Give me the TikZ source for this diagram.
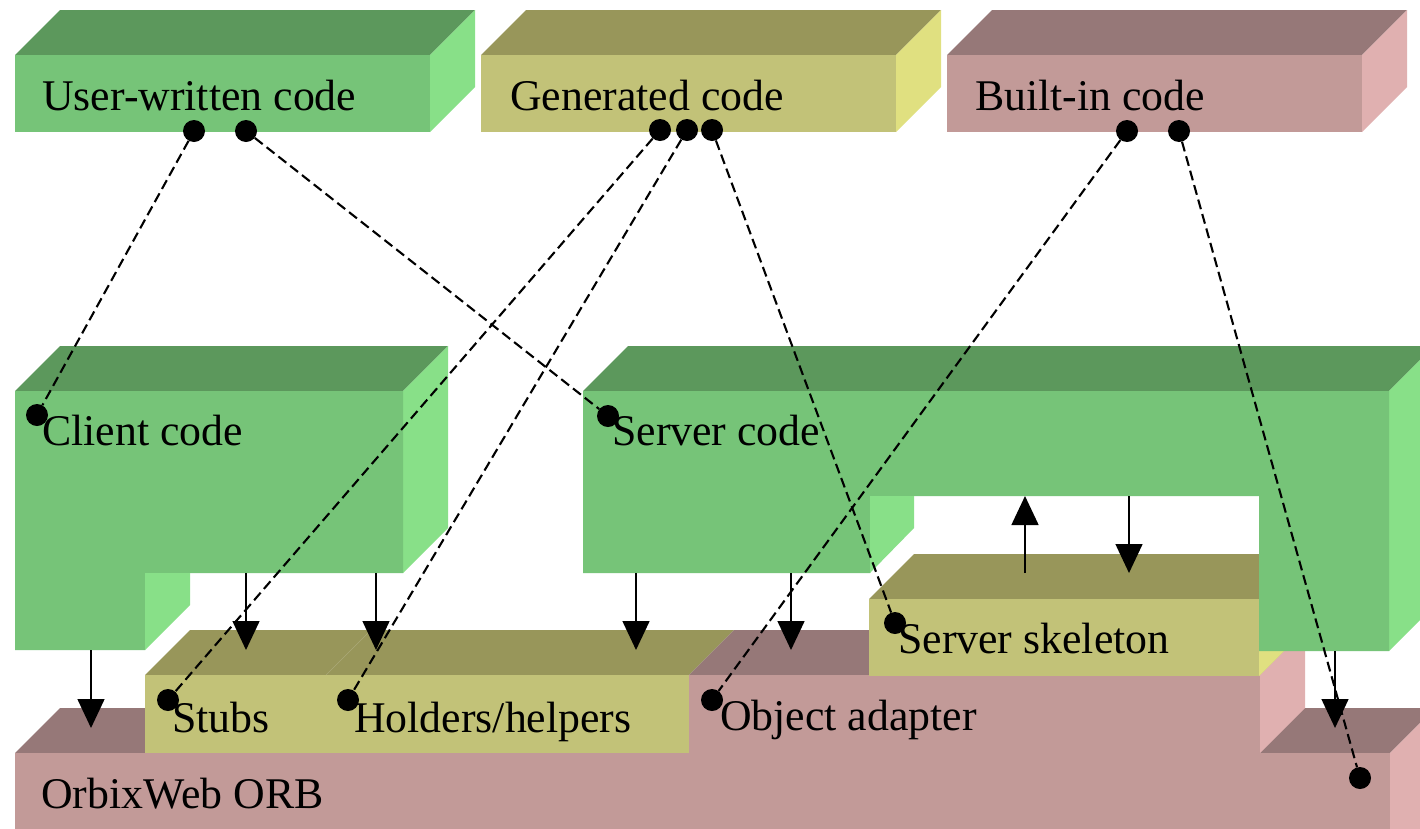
\documentclass[tikz,border=0pt]{standalone}
\usepackage{fontspec}
\setmainfont{Liberation Serif}
\usetikzlibrary{arrows.meta}
\definecolor{gtop}{RGB}{92,152,92}
\definecolor{gfront}{RGB}{118,196,120}
\definecolor{gside}{RGB}{136,224,136}
\definecolor{ytop}{RGB}{152,150,90}
\definecolor{yfront}{RGB}{194,194,120}
\definecolor{yside}{RGB}{224,224,128}
\definecolor{ptop}{RGB}{150,120,120}
\definecolor{pfront}{RGB}{194,154,152}
\definecolor{pside}{RGB}{224,176,176}
\begin{document}
\begin{tikzpicture}[x=1pt,y=-1pt,
  lbl/.style={anchor=base west, font=\fontsize{43.8}{50}\selectfont, inner sep=0pt},
  dot/.style={circle, fill=black, inner sep=0pt, minimum size=22pt},
  linkline/.style={draw, line width=2.1pt, dash pattern=on 10pt off 5pt},
  flow/.style={draw, line width=1.5pt, -{Triangle[width=27pt,length=29pt]}}]
\useasboundingbox (0,0) rectangle (1420,828);
\clip (0,0) rectangle (1420,828);
\fill[white] (0,0) rectangle (1420,828);

% ---- OrbixWeb ORB
\fill[ptop] (15,753) -- (60,708) -- (1435,708) -- (1390,753) -- cycle;
\fill[pside] (1390,753) -- (1435,708) -- (1435,900) -- (1390,900) -- cycle;
\fill[pfront] (15,753) rectangle (1390,900);

% ---- Stubs and Holders/helpers
\fill[ytop] (145,675) -- (190,630) -- (371,630) -- (326,675) -- cycle;
\fill[ytop] (326,675) -- (371,630) -- (734,630) -- (689,675) -- cycle;
\draw[ytop!85!white, line width=0.5pt] (326,675) -- (371,630);
\fill[yfront] (145,675) rectangle (689,753);

% ---- Object adapter
\fill[ptop] (689,675) -- (734,630) -- (1305,630) -- (1260,675) -- cycle;
\fill[pside] (1260,675) -- (1305,630) -- (1305,708) -- (1260,753) -- cycle;
\fill[pfront] (689,675) rectangle (1260,753);

% ---- Server skeleton
\fill[ytop] (869,599) -- (914,554) -- (1304,554) -- (1259,599) -- cycle;
\fill[yside] (1259,599) -- (1304,554) -- (1304,631) -- (1259,676) -- cycle;
\fill[yfront] (869,599) rectangle (1259,676);

% ---- Server code
\fill[gtop] (583,391) -- (628,346) -- (1434,346) -- (1389,391) -- cycle;
\fill[gside] (1389,391) -- (1434,346) -- (1434,606) -- (1389,651) -- cycle;
\fill[gfront] (583,391) -- (1389,391) -- (1389,651) -- (1259,651) -- (1259,496)
   -- (870,496) -- (870,573) -- (583,573) -- cycle;
\fill[gside] (870,496) -- (914,496) -- (914,528) -- (870,573) -- cycle;

% ---- Client code
\fill[gtop] (15,391) -- (60,346) -- (448,346) -- (403,391) -- cycle;
\fill[gside] (403,391) -- (448,346) -- (448,528) -- (403,573) -- cycle;
\fill[gfront] (15,391) -- (403,391) -- (403,573) -- (145,573) -- (145,650) -- (15,650) -- cycle;
\fill[gside] (145,573) -- (190,573) -- (190,605) -- (145,650) -- cycle;

% ---- Top legend blocks
\fill[gtop] (15,55) -- (60,10) -- (475,10) -- (430,55) -- cycle;
\fill[gside] (430,55) -- (475,10) -- (475,87) -- (430,132) -- cycle;
\fill[gfront] (15,55) rectangle (430,132);
\fill[ytop] (481,55) -- (526,10) -- (941,10) -- (896,55) -- cycle;
\fill[yside] (896,55) -- (941,10) -- (941,87) -- (896,132) -- cycle;
\fill[yfront] (481,55) rectangle (896,132);
\fill[ptop] (947,55) -- (992,10) -- (1407,10) -- (1362,55) -- cycle;
\fill[pside] (1362,55) -- (1407,10) -- (1407,87) -- (1362,132) -- cycle;
\fill[pfront] (947,55) rectangle (1362,132);

% ---- Labels
\node[lbl] (tuser) at (42,110) {User-written code};
\node[lbl] (tgen) at (510,110) {Generated code};
\node[lbl] (tbuilt) at (975,110) {Built-in code};
\node[lbl] (tclient) at (42,445) {Client code};
\node[lbl] (tserver) at (612,445) {Server code};
\node[lbl] (tskel) at (898,653) {Server skeleton};
\node[lbl] (tstubs) at (172,732) {Stubs};
\node[lbl] (thold) at (354,732) {Holders/helpers};
\node[lbl] (toa) at (720,730) {Object adapter};
\node[lbl] (torb) at (41,808) {OrbixWeb ORB};

% ---- Solid arrows
\coordinate (a1s) at (91,650);   \coordinate (a1e) at (91,728);
\coordinate (a2s) at (246,573);  \coordinate (a2e) at (246,650);
\coordinate (a3s) at (376,573);  \coordinate (a3e) at (376,650);
\coordinate (a4s) at (636,573);  \coordinate (a4e) at (636,650);
\coordinate (a5s) at (791,573);  \coordinate (a5e) at (791,650);
\coordinate (a6s) at (1335,651); \coordinate (a6e) at (1335,728);
\coordinate (a7s) at (1025,573); \coordinate (a7e) at (1025,496);
\coordinate (a8s) at (1129,496); \coordinate (a8e) at (1129,573);
\draw[flow] (a1s) -- (a1e);
\draw[flow] (a2s) -- (a2e);
\draw[flow] (a3s) -- (a3e);
\draw[flow] (a4s) -- (a4e);
\draw[flow] (a5s) -- (a5e);
\draw[flow] (a6s) -- (a6e);
\draw[flow] (a7s) -- (a7e);
\draw[flow] (a8s) -- (a8e);

% ---- Dots
\node[dot] (u1) at (194,131) {};
\node[dot] (u2) at (246,131) {};
\node[dot] (g1) at (660,130) {};
\node[dot] (g2) at (687,130) {};
\node[dot] (g3) at (712,130) {};
\node[dot] (b1) at (1127,131) {};
\node[dot] (b2) at (1179,131) {};
\node[dot] (dc) at (37,415) {};
\node[dot] (ds) at (608,416) {};
\node[dot] (dst) at (168,700) {};
\node[dot] (dh) at (348,700) {};
\node[dot] (dsk) at (895,623) {};
\node[dot] (doa) at (712,700) {};
\node[dot] (dorb) at (1360,778) {};

% ---- Dashed links
\draw[linkline] (u1) -- (dc);
\draw[linkline] (u2) -- (ds);
\draw[linkline] (g1) -- (dst);
\draw[linkline] (g2) -- (dh);
\draw[linkline] (g3) -- (dsk);
\draw[linkline] (b1) -- (doa);
\draw[linkline] (b2) -- (dorb);
\end{tikzpicture}
\end{document}
